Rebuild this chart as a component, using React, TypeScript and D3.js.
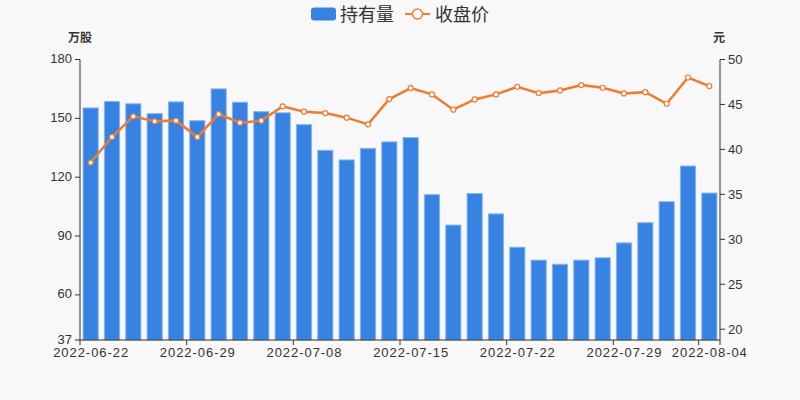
import React from "react";
import * as d3 from "d3";

const dates = [
  "2022-06-22","2022-06-23","2022-06-24","2022-06-27","2022-06-28",
  "2022-06-29","2022-06-30","2022-07-01","2022-07-05","2022-07-07",
  "2022-07-08","2022-07-11","2022-07-12","2022-07-13","2022-07-14",
  "2022-07-15","2022-07-18","2022-07-19","2022-07-20","2022-07-21",
  "2022-07-22","2022-07-25","2022-07-26","2022-07-27","2022-07-28",
  "2022-07-29","2022-08-01","2022-08-02","2022-08-03","2022-08-04",
];
const holdings = [
  155.3,158.6,157.4,152.4,158.4,148.8,165.0,158.2,153.4,152.8,
  146.8,133.7,128.8,134.7,138.0,140.2,111.1,95.6,111.7,101.3,
  84.3,77.7,75.6,77.7,78.9,86.5,96.8,107.5,125.7,111.9,
];
const closes = [
  38.54,41.38,43.68,43.12,43.2,41.38,43.93,42.97,43.2,44.79,
  44.2,44.04,43.53,42.79,45.6,46.82,46.12,44.42,45.56,46.12,
  46.97,46.26,46.56,47.15,46.86,46.23,46.37,45.08,48.0,47.04,
];
const leftTicks = [37, 60, 90, 120, 150, 180];
const rightTicks = [20, 25, 30, 35, 40, 45, 50];
const labelIdx = [0, 5, 10, 15, 20, 25, 29];

const W = 800, H = 400;
const L = 80, R = 720, T = 59.5, B = 340;
const FONT = "'Liberation Sans', Arial, sans-serif";
const CJK = "'Noto Sans CJK SC', sans-serif";

export default function App() {
  const x = d3.scaleBand<number>().domain(d3.range(dates.length)).range([L, R]).paddingInner(0).paddingOuter(0);
  const bw = x.bandwidth();
  const barW = bw * 0.71;
  const yL = d3.scaleLinear().domain([37, 180]).range([B, T]);
  const yR = d3.scaleLinear().domain([18.8, 50]).range([B, T]);
  const line = d3.line<number>().x((_, i) => (x(i) as number) + bw / 2).y((d) => yR(d));
  const textColor = "#333";
  const axisColor = "#333";

  return (
    <svg width={W} height={H} style={{ position: "absolute", left: 0, top: 0, background: "#f8f8f8" }}>
      <rect x={0} y={0} width={W} height={H} fill="#f8f8f8" />
      {/* legend */}
      <rect x={311} y={7.5} width={25} height={13} rx={3} fill="#3582e3" />
      <text x={340} y={20.5} fontSize={18} fontFamily={CJK} fill="#333">持有量</text>
      <line x1={405} x2={430} y1={14} y2={14} stroke="#f08030" strokeWidth={2} />
      <circle cx={417.5} cy={14} r={5} fill="#f8f8f8" stroke="#f08030" strokeWidth={1.5} />
      <text x={435} y={20.5} fontSize={18} fontFamily={CJK} fill="#333">收盘价</text>

      {/* unit labels */}
      <text x={80} y={42} fontSize={12} fontWeight="bold" fontFamily={CJK} textAnchor="middle" fill="#333">万股</text>
      <text x={719} y={42} fontSize={12} fontWeight="bold" fontFamily={CJK} textAnchor="middle" fill="#333">元</text>

      {/* bars */}
      {holdings.map((v, i) => {
        const cx = (x(i) as number) + bw / 2;
        return (
          <rect key={i} x={cx - barW / 2} y={yL(v)} width={barW} height={B - yL(v)}
            fill="#3582e3" stroke="#8ab4ef" strokeWidth={1} />
        );
      })}

      {/* line */}
      <path d={line(closes) || ""} fill="none" stroke="#f07a30" strokeWidth={2.5} />
      {closes.map((v, i) => (
        <circle key={i} cx={(x(i) as number) + bw / 2} cy={yR(v)} r={2.5} fill="#fff" stroke="#f07a30" strokeWidth={1.2} />
      ))}

      {/* left axis */}
      <line x1={L} x2={L} y1={T} y2={B} stroke={axisColor} strokeWidth={1} />
      {leftTicks.map((t) => (
        <g key={t}>
          <line x1={L - 5} x2={L} y1={yL(t)} y2={yL(t)} stroke={axisColor} />
          <text x={L - 8} y={yL(t) - 1} dy="0.35em" fontSize={13} fontFamily={FONT} textAnchor="end" fill={textColor}>{t}</text>
        </g>
      ))}
      {/* right axis */}
      <line x1={R} x2={R} y1={T} y2={B} stroke={axisColor} strokeWidth={1} />
      {rightTicks.map((t) => (
        <g key={t}>
          <line x1={R} x2={R + 5} y1={yR(t)} y2={yR(t)} stroke={axisColor} />
          <text x={R + 8} y={yR(t)} dy="0.35em" fontSize={13} fontFamily={FONT} textAnchor="start" fill={textColor}>{t}</text>
        </g>
      ))}
      {/* x axis */}
      <line x1={L} x2={R} y1={B} y2={B} stroke={axisColor} strokeWidth={1} />
      {labelIdx.map((i) => (
        <g key={i}>
          <line x1={x(i) as number} x2={x(i) as number} y1={B} y2={B + 5} stroke={axisColor} />
          <text x={(x(i) as number) + bw / 2} y={B + 17} fontSize={13} fontFamily={FONT} textAnchor="middle"
            textLength={75} lengthAdjust="spacing" fill={textColor}>{dates[i]}</text>
        </g>
      ))}
      <line x1={R} x2={R} y1={B} y2={B + 5} stroke={axisColor} />
    </svg>
  );
}
